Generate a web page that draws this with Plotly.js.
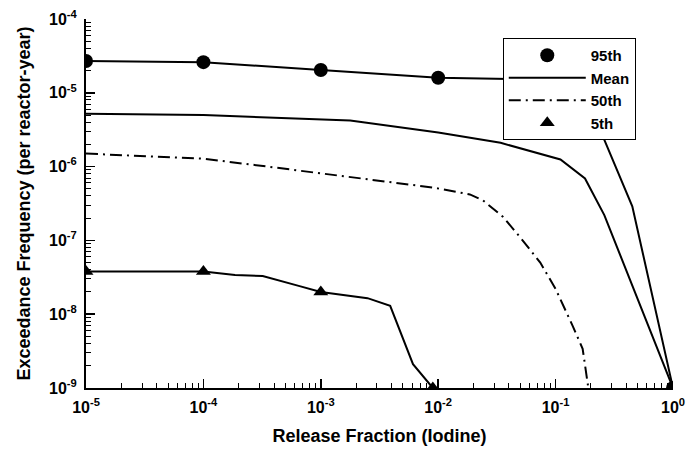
<!DOCTYPE html>
<html>
<head>
<meta charset="utf-8">
<script src="https://cdn.plot.ly/plotly-3.0.1.min.js"></script>
<style>html,body{margin:0;padding:0;background:#fff;}#chart{width:689px;height:449px;}</style>
</head>
<body>
<div id="chart"></div>
<script>
// 95th percentile curve
const p95X = [1e-5, 1e-4, 1e-3, 1e-2, 1e-1, 0.16, 0.45, 1];
const p95Y = [2.7e-5, 2.6e-5, 2.04e-5, 1.6e-5, 1.5e-5, 1.45e-5, 2.9e-7, 1e-9];
const p95MarkX = [1e-5, 1e-4, 1e-3, 1e-2, 1e-1, 1];
const p95MarkY = [2.7e-5, 2.6e-5, 2.04e-5, 1.6e-5, 1.5e-5, 1e-9];

// Mean curve
const meanX = [1e-5, 1e-4, 1.78e-3, 1e-2, 0.034, 0.11, 0.178, 0.26, 1];
const meanY = [5.2e-6, 5.0e-6, 4.2e-6, 2.9e-6, 2.1e-6, 1.25e-6, 6.9e-7, 2.2e-7, 1e-9];

// 50th percentile curve
const p50X = [1e-5, 1e-4, 2.5e-4, 1.78e-3, 9.1e-3, 0.0186, 0.024, 0.0355, 0.05, 0.074, 0.10, 0.14, 0.17, 0.19];
const p50Y = [1.5e-6, 1.28e-6, 1.07e-6, 7.3e-7, 5.2e-7, 4.2e-7, 3.5e-7, 2.1e-7, 1.1e-7, 5.0e-8, 2.2e-8, 6.9e-9, 3.4e-9, 1e-9];

// 5th percentile curve
const p5X = [1e-5, 1e-4, 1.86e-4, 3.2e-4, 6.6e-4, 1e-3, 2.5e-3, 3.9e-3, 6.1e-3, 9e-3];
const p5Y = [3.8e-8, 3.8e-8, 3.4e-8, 3.3e-8, 2.4e-8, 2.0e-8, 1.65e-8, 1.3e-8, 2.1e-9, 1e-9];
const p5MarkX = [1e-5, 1e-4, 1e-3, 9e-3];
const p5MarkY = [3.8e-8, 3.8e-8, 2.0e-8, 1e-9];

const legendNames = ['95th', 'Mean', '50th', '5th'];
const xTitle = 'Release Fraction (Iodine)';
const yTitle = 'Exceedance Frequency (per reactor-year)';

// tick labels
const xTickVals = [1e-5, 1e-4, 1e-3, 1e-2, 1e-1, 1];
const xTickText = ['10<sup>-5</sup>', '10<sup>-4</sup>', '10<sup>-3</sup>', '10<sup>-2</sup>', '10<sup>-1</sup>', '10<sup>0</sup>'];
const yTickVals = [1e-9, 1e-8, 1e-7, 1e-6, 1e-5, 1e-4];
const yTickText = ['10<sup>-9</sup>', '10<sup>-8</sup>', '10<sup>-7</sup>', '10<sup>-6</sup>', '10<sup>-5</sup>', '10<sup>-4</sup>'];

function minorTicks(lo, hi) {
  const v = [];
  for (let e = lo; e < hi; e++) for (let m = 2; m <= 9; m++) v.push(m * Math.pow(10, e));
  return v;
}

const FONT = 'Liberation Sans, Arial, sans-serif';
const traces = [
  {x: p95X, y: p95Y, mode: 'lines', line: {color: '#000', width: 2}, showlegend: false, hoverinfo: 'skip'},
  {x: meanX, y: meanY, mode: 'lines', name: legendNames[1], line: {color: '#000', width: 2}, legendrank: 2},
  {x: p50X, y: p50Y, mode: 'lines', name: legendNames[2], line: {color: '#000', width: 2, dash: '12px,5px,2px,5px'}, legendrank: 3},
  {x: p5X, y: p5Y, mode: 'lines', line: {color: '#000', width: 2}, showlegend: false, hoverinfo: 'skip'},
  {x: p95MarkX, y: p95MarkY, mode: 'markers', name: legendNames[0], marker: {symbol: 'circle', size: 14, color: '#000'}, legendrank: 1},
  {x: p5MarkX, y: p5MarkY, mode: 'markers', name: legendNames[3], marker: {symbol: 'triangle-up', size: 13, color: '#000'}, legendrank: 4}
];

const axisCommon = {
  type: 'log', tickmode: 'array', showgrid: false, zeroline: false,
  showline: true, linecolor: '#000', linewidth: 2, ticks: 'inside', ticklen: 9, tickwidth: 1.5, tickcolor: '#000',
  ticklabelstandoff: 4,
  tickfont: {family: FONT, size: 16, color: '#000', weight: 'bold'}
};

const layout = {
  width: 689, height: 449,
  margin: {l: 86, r: 16, t: 19, b: 61},
  paper_bgcolor: '#fff', plot_bgcolor: '#fff',
  font: {family: FONT, color: '#000'},
  xaxis: Object.assign({}, axisCommon, {
    range: [-5, 0], tickvals: xTickVals, ticktext: xTickText,
    minor: {tickmode: 'array', tickvals: minorTicks(-5, 0), ticks: 'inside', ticklen: 5, tickwidth: 1, tickcolor: '#000', showgrid: false},
    title: {text: xTitle, font: {family: FONT, size: 18, color: '#000', weight: 'bold'}, standoff: 14}
  }),
  yaxis: Object.assign({}, axisCommon, {
    range: [-9, -4], tickvals: yTickVals, ticktext: yTickText,
    minor: {tickmode: 'array', tickvals: minorTicks(-9, -4), ticks: 'inside', ticklen: 5, tickwidth: 1, tickcolor: '#000', showgrid: false},
    title: {text: yTitle, font: {family: FONT, size: 18, color: '#000', weight: 'bold'}, standoff: 14}
  }),
  legend: {
    x: 0.71, y: 0.9485, xanchor: 'left', yanchor: 'top',
    bgcolor: '#fff', bordercolor: '#000', borderwidth: 1,
    font: {family: FONT, size: 15, color: '#000', weight: 'bold'},
    itemwidth: 77, tracegroupgap: 0
  },
  showlegend: true
};

Plotly.newPlot('chart', traces, layout, {staticPlot: true, displayModeBar: false});
</script>
</body>
</html>
